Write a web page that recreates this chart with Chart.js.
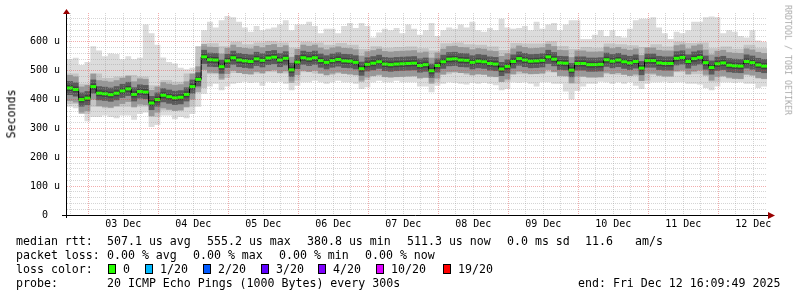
<!DOCTYPE html>
<html><head><meta charset="utf-8">
<script src="https://cdn.jsdelivr.net/npm/chart.js@4/dist/chart.umd.min.js"></script>
<style>
html,body{margin:0;padding:0;background:#fff;}
#wrap{position:relative;width:797px;height:297px;overflow:hidden;background:#fff;}
#c{position:absolute;left:0;top:0;}
.t{position:absolute;font-family:"DejaVu Sans Mono",monospace;font-size:11.6px;line-height:14px;color:#000;white-space:pre;}
.box{position:absolute;width:6px;height:8px;border:1px solid #000;}
.rot{position:absolute;white-space:pre;font-family:"DejaVu Sans Mono",monospace;line-height:1;}
</style></head><body>
<div id="wrap"><canvas id="c" width="797" height="297"></canvas><div id="legend"></div></div>
<script>
// ---- data (microseconds), 2-hour bins starting at graph start ----
const medianRtt = [440,435,400,405,445,422,420,417,422,430,
 437,418,428,426,388,400,415,410,406,408,
 418,445,470,548,538,537,514,534,545,537,
 534,532,541,536,544,547,537,543,503,530,
 545,541,545,535,529,535,539,534,533,529,
 507,522,526,531,523,521,523,524,525,526,
 518,521,500,518,531,540,541,537,536,529,
 533,531,525,523,506,515,532,542,537,533,
 534,536,548,540,527,526,502,525,525,521,
 521,522,538,533,537,531,527,532,509,535,
 535,527,525,525,543,546,532,542,546,528,
 511,524,527,519,517,516,532,528,520,516];
const maxRtt = [540,545,520,530,585,570,550,560,558,540,
 550,540,545,660,630,590,546,530,525,510,
 505,510,560,640,670,650,675,690,685,670,
 650,635,655,640,645,650,660,675,640,660,
 660,670,655,630,645,645,630,655,665,648,
 665,655,615,632,645,640,648,630,660,645,
 625,640,665,620,640,650,645,660,650,670,
 640,635,648,640,680,650,645,648,655,640,
 670,645,660,665,640,660,675,675,610,610,
 625,640,620,640,620,615,645,675,680,680,
 685,650,630,610,635,630,640,670,670,685,
 688,685,630,640,635,620,615,640,605,600];
const minRtt = [375,370,360,325,340,340,345,340,335,345,
 345,330,350,355,305,312,345,345,332,340,
 335,350,375,420,445,455,432,445,455,458,
 462,458,460,448,462,458,462,455,432,448,
 460,460,465,460,455,460,465,460,460,455,
 437,443,460,465,460,460,465,460,460,460,
 445,445,425,448,455,460,458,455,452,458,
 455,458,455,450,432,437,460,458,460,455,
 445,460,460,455,455,428,400,430,445,455,
 455,462,460,455,460,455,460,448,437,455,
 460,460,462,458,460,460,455,455,452,440,
 432,445,460,460,458,460,455,455,440,445];
// 4-hour bins: edges of the darker smoke
const upperRtt = [490,455,490,475,480,485,480,450,468,462,
 490,585,595,585,600,592,598,602,598,580,
 600,598,590,596,590,575,585,580,582,584,
 578,570,595,598,592,590,584,572,596,594,
 594,602,586,575,582,580,594,592,588,582,
 592,584,600,596,598,578,584,576,590,578];
const lowerRtt = [385,350,375,370,375,375,375,340,362,360,
 375,440,488,475,492,488,490,495,490,465,
 495,490,485,490,485,468,482,478,478,480,
 475,460,488,492,486,486,478,462,488,488,
 488,495,480,455,478,478,488,486,482,465,
 485,480,495,488,488,462,478,472,484,472];
const dayTicks = ['03 Dec','04 Dec','05 Dec','06 Dec','07 Dec','08 Dec','09 Dec','10 Dec','11 Dec','12 Dec'];
const yTicks = ['0  ','100 u','200 u','300 u','400 u','500 u','600 u'];
const rttStats = ['507.1 us avg','555.2 us max','380.8 us min','511.3 us now','0.0 ms sd','11.6','am/s'];
const lossStats = ['0.00 % avg','0.00 % max','0.00 % min','0.00 % now'];
const lossLabels = ['0','1/20','2/20','3/20','4/20','10/20','19/20'];
const probeText = '20 ICMP Echo Pings (1000 Bytes) every 300s';
const endText = 'end: Fri Dec 12 16:09:49 2025';

// ---- time range (hours relative to 03 Dec 00:00) ----
const X0 = -7.3, SPAN = 240;
function stepPts(arr, step){
  const pts = arr.map((v,i)=>({x:X0+i*step,y:v}));
  pts.push({x:X0+arr.length*step,y:arr[arr.length-1]});
  return pts;
}
function centerPts(arr, step){ return arr.map((v,i)=>({x:X0+i*step+step/2,y:v})); }
const halfBin=(ctx)=>{const s=ctx.chart.scales.x;return (s.getPixelForValue(2)-s.getPixelForValue(0))/2;};
const NONE='rgba(0,0,0,0)';
const GRAY='rgba(150,150,150,0.4)', PINK='rgba(225,60,60,0.42)';
const base={type:'line',pointRadius:0,pointHoverRadius:0,borderWidth:0,borderColor:NONE,stepped:true,tension:0,fill:false,borderJoinStyle:'miter',borderCapStyle:'butt'};
const bar={type:'line',showLine:false,pointStyle:'line',pointRadius:halfBin,pointHoverRadius:halfBin};
const mono='DejaVu Sans Mono';

const deco={id:'deco',afterDraw(ch){
  const c=ch.ctx,a=ch.chartArea;
  c.save();
  c.strokeStyle='#000';c.lineWidth=1;
  c.beginPath();c.moveTo(62,a.bottom+0.5);c.lineTo(769,a.bottom+0.5);c.stroke();
  c.beginPath();c.moveTo(a.left-0.5,a.bottom+3);c.lineTo(a.left-0.5,a.top);c.stroke();
  c.fillStyle='#990000';
  c.beginPath();c.moveTo(768,a.bottom-3);c.lineTo(775,a.bottom+0.5);c.lineTo(768,a.bottom+4);c.closePath();c.fill();
  c.beginPath();c.moveTo(a.left-4,a.top+1);c.lineTo(a.left-0.5,a.top-4);c.lineTo(a.left+3,a.top+1);c.closePath();c.fill();
  c.restore();
}};

new Chart(document.getElementById('c'),{
  data:{datasets:[
    {...base,data:stepPts(maxRtt,2),fill:'+1',backgroundColor:'#dcdcdc',order:9},
    {...base,data:stepPts(minRtt,2),order:8},
    {...base,data:stepPts(upperRtt,4),fill:'+1',backgroundColor:'#c4c4c4',order:7},
    {...base,data:stepPts(lowerRtt,4),order:6},
    {...bar,data:centerPts(medianRtt,2),pointBorderWidth:26,pointBorderColor:'rgba(90,90,90,0.42)',order:5},
    {...bar,data:centerPts(medianRtt,2),pointBorderWidth:14,pointBorderColor:'rgba(40,40,40,0.55)',order:4},
    {...bar,data:centerPts(medianRtt,2),pointBorderWidth:6,pointBorderColor:'rgba(25,25,25,0.4)',order:3},
    {...base,data:stepPts(medianRtt,2),borderWidth:1,borderColor:'#000',order:2},
    {...bar,data:centerPts(medianRtt,2),pointBorderWidth:3,pointBorderColor:'#26ff00',pointBackgroundColor:'#26ff00',order:1}
  ]},
  options:{
    responsive:false,animation:false,events:[],
    layout:{padding:{left:0,right:30,top:12,bottom:62}},
    plugins:{legend:{display:false},tooltip:{enabled:false}},
    scales:{
      x:{type:'linear',min:X0,max:X0+SPAN,
        afterFit(s){s.height=20;},
        afterBuildTicks(s){const t=[];for(let v=-6;v<=X0+SPAN;v+=6)t.push({value:v});s.ticks=t;},
        ticks:{autoSkip:false,maxRotation:0,minRotation:0,padding:3,
          font:{family:mono,size:10},color:'#000',
          callback(v){const h=Math.round(v);return (((h%24)+24)%24===12)?(dayTicks[(h-12)/24]||''):'';}},
        grid:{drawTicks:false,z:1,color(ctx){const v=Math.round(ctx.tick.value);return (((v%24)+24)%24===0)?PINK:GRAY;}},
        border:{display:false,dash:[1,1]}},
      y:{type:'linear',min:0,max:700,
        afterFit(s){s.width=67;},
        ticks:{stepSize:20,autoSkip:false,padding:7,font:{family:mono,size:10},color:'#000',
          callback(v){return (v%100===0&&v<700)?yTicks[v/100]:'';}},
        grid:{drawTicks:false,z:1,color(ctx){const v=ctx.tick.value;if(v<=0||v>=700)return NONE;return v%100===0?PINK:GRAY;}},
        border:{display:false,dash:[1,1]}}
    }
  },
  plugins:[deco]
});

// ---- legend / texts ----
const L=document.getElementById('legend');
function txt(s,x,y,cls){const d=document.createElement('div');d.className=cls||'t';d.textContent=s;d.style.left=x+'px';d.style.top=y+'px';L.appendChild(d);return d;}
const rttX=[107,207,307,407,507,585,635];
txt('median rtt:',16,234);
rttStats.forEach((s,i)=>txt(s,rttX[i],234));
const lossX=[107,193,279,365];
txt('packet loss:',16,248);
lossStats.forEach((s,i)=>txt(s,lossX[i],248));
txt('loss color:',16,261.5);
const lossColors=['#26ff00','#00b8ff','#0059ff','#5e00ff','#7e00ff','#dd00ff','#ff0000'];
const boxX=[108,145,203,261,318,376,443];
lossLabels.forEach((s,i)=>{
  const b=document.createElement('div');b.className='box';b.style.left=boxX[i]+'px';b.style.top='264px';b.style.background=lossColors[i];L.appendChild(b);
  txt(s,boxX[i]+15,261.5);
});
txt('probe:',16,276);
txt(probeText,107,276);
txt(endText,578,276);
const s1=txt('Seconds',11.5,114,'rot');s1.style.fontSize='11.6px';s1.style.color='#000';s1.style.transform='translate(-50%,-50%) rotate(-90deg)';
const s2=txt('RRDTOOL / TOBI OETIKER',788,60,'rot');s2.style.fontSize='8.3px';s2.style.color='#aaaaaa';s2.style.transform='translate(-50%,-50%) rotate(90deg)';
</script>
</body></html>
